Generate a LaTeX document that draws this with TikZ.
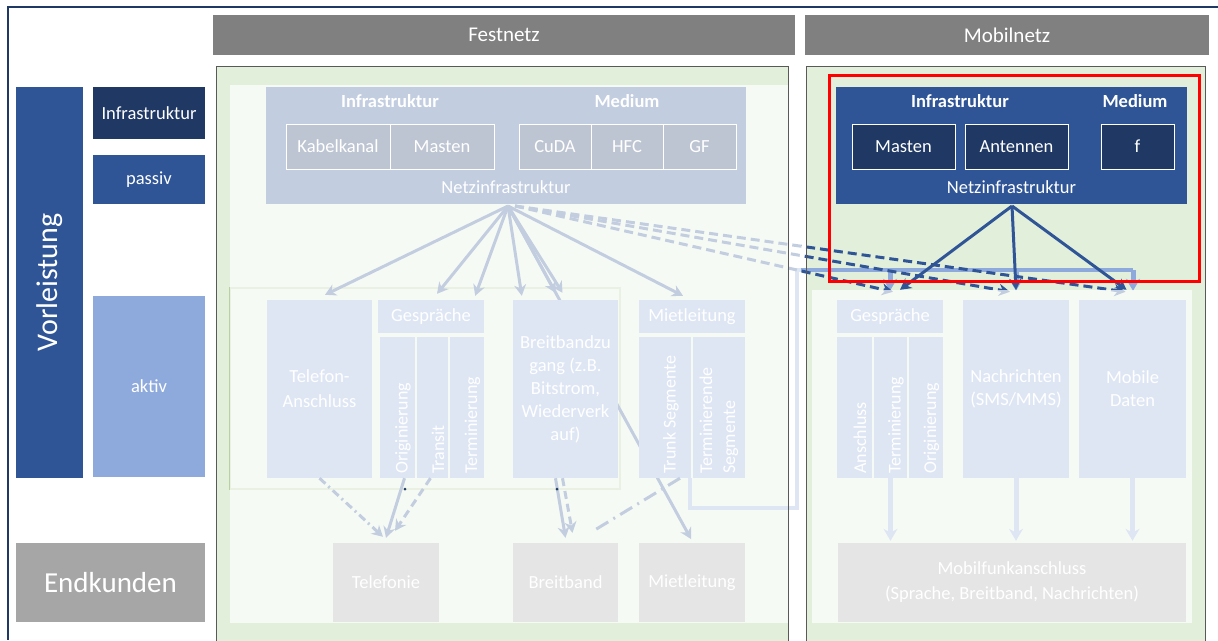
\documentclass[tikz,border=0pt]{standalone}
\usepackage{fontspec}
\setmainfont{Carlito}
\usetikzlibrary{arrows.meta}
\definecolor{navy}{HTML}{1F3864}
\definecolor{mblue}{HTML}{2F5597}
\definecolor{lblue}{HTML}{8EA9DB}
\definecolor{egray}{HTML}{A6A6A6}
\definecolor{hgray}{HTML}{808080}
\definecolor{pgreen}{HTML}{E2EFDA}
\definecolor{fframe}{HTML}{B8D1A0}
\definecolor{pborder}{HTML}{595959}
\tikzset{
 box/.style={draw=none, inner sep=0pt, align=center, text=white, font=\fontsize{18.5}{22}\selectfont},
 dk/.style={box, fill=navy},
 md/.style={box, fill=mblue},
 lb/.style={box, fill=lblue},
 gy/.style={box, fill=egray},
 ib/.style={box, fill=navy, draw=white, line width=1pt},
 hdr/.style={box, fill=hgray, font=\fontsize{21}{24}\selectfont},
 rottxt/.style={rotate=90, anchor=west, text=white, inner sep=0pt, align=left, font=\fontsize{18}{23}\selectfont},
 lbl/.style={text=white, inner sep=0pt, font=\fontsize{18.5}{22}\selectfont},
 blbl/.style={lbl, font=\fontsize{18.5}{22}\selectfont\bfseries},
 farr/.style={draw=mblue, line width=3pt, -{Stealth[length=11pt,width=12pt]}},
 dsh/.style={draw=mblue, line width=3pt, dash pattern=on 9pt off 5pt, -{Stealth[length=11pt,width=12pt]}},
 lpath/.style={draw=lblue, line width=4.5pt},
 larr/.style={draw=lblue, line width=5pt, -{Stealth[length=12pt,width=14pt]}},
 fad/.style={fill=white, fill opacity=0.71},
}
\begin{document}
\begin{tikzpicture}[x=1pt,y=-1pt]
\useasboundingbox (0,0) rectangle (1218,640);
\fill[white] (0,0) rectangle (1218,640);
% outer frame
\draw[navy, line width=2pt] (1218,7) -- (8,7) -- (8,640);

% headers
\node[hdr, minimum width=582pt, minimum height=40pt] (hfest) at (504,35) {Festnetz};
\node[hdr, minimum width=404pt, minimum height=40pt] (hmob) at (1007,35) {Mobilnetz};

% left column
\node[md, rotate=90, minimum width=391pt, minimum height=67pt, font=\fontsize{30}{34}\selectfont] (vorl) at (49.5,282.5) {Vorleistung};
\node[dk, minimum width=112pt, minimum height=52pt] (infl) at (149,113) {Infrastruktur};
\node[md, minimum width=112pt, minimum height=49pt] (passl) at (149,179.5) {passiv};
\node[lb, minimum width=112pt, minimum height=181pt] (aktl) at (149,386.5) {aktiv};
\node[gy, minimum width=189pt, minimum height=79pt, font=\fontsize{29}{33}\selectfont] (endk) at (110.5,582.5) {Endkunden};

% panels
\fill[pgreen] (216,66) rectangle (788,645);
\fill[pgreen] (806,66) rectangle (1205,645);

% faint frame in Festnetz
\draw[fframe, line width=1.5pt] (230,288) rectangle (620,489);

% Festnetz top box
\node[md, minimum width=480pt, minimum height=117pt] (ftop) at (506,145.5) {};
\node[blbl] (ftinf) at (390,101) {Infrastruktur};
\node[blbl] (ftmed) at (627,101) {Medium};
\node[lbl] (ftnetz) at (506,187) {Netzinfrastruktur};
\node[ib, minimum width=104pt, minimum height=45pt] (fkab) at (338,146.5) {Kabelkanal};
\node[ib, minimum width=104pt, minimum height=45pt] (fmas) at (442,146.5) {Masten};
\node[ib, minimum width=72pt, minimum height=45pt] (fcuda) at (555,146.5) {CuDA};
\node[ib, minimum width=72pt, minimum height=45pt] (fhfc) at (627,146.5) {HFC};
\node[ib, minimum width=73pt, minimum height=45pt] (fgf) at (699.5,146.5) {GF};
\coordinate (fn) at (508,206);
\coordinate (fnd) at (515,206);

% hidden diagonal to Mietleitung (behind boxes)
\node[gy, minimum width=106pt, minimum height=79pt] (emiet) at (692,582.5) {Mietleitung};
\draw[farr, shorten >=2pt] (fn) -- ([yshift=2pt]emiet.north);

% Festnetz lower boxes
\node[lb, minimum width=105pt, minimum height=178pt, font=\fontsize{18.5}{25}\selectfont] (ftel) at (319.5,389) {Telefon-\\Anschluss};
\node[lb, minimum width=106pt, minimum height=33pt] (fges) at (431,316.5) {Gespräche};
\node[lb, minimum width=35pt, minimum height=141pt] (forig) at (397.5,407.5) {};
\node[lb, minimum width=31pt, minimum height=141pt] (ftrans) at (432.5,407.5) {};
\node[lb, minimum width=34pt, minimum height=141pt] (fterm) at (467,407.5) {};
\node[rottxt] (tforig) at (403,474) {Originierung};
\node[rottxt] (tftrans) at (438,474) {Transit};
\node[rottxt] (tfterm) at (472.5,474) {Terminierung};
\node[lb, minimum width=105pt, minimum height=178pt, font=\fontsize{18.5}{23}\selectfont] (fbb) at (565.5,389) {Breitbandzu\\gang (z.B.\\Bitstrom,\\Wiederverk\\auf)};
\node[lb, minimum width=106pt, minimum height=33pt] (fmiet) at (692,316.5) {Mietleitung};
\node[lb, minimum width=52pt, minimum height=141pt] (ftrunk) at (665,407.5) {};
\node[lb, minimum width=52pt, minimum height=141pt] (ftseg) at (719,407.5) {};
\node[rottxt] (tftrunk) at (671,474) {Trunk Segmente};
\node[rottxt] (tftseg) at (719,474) {Terminierende\\Segmente};
\node[gy, minimum width=106pt, minimum height=79pt] (etel) at (386,582.5) {Telefonie};
\node[gy, minimum width=105pt, minimum height=79pt] (ebb) at (565.5,582.5) {Breitband};

% Festnetz arrows from Netzinfrastruktur
\draw[farr] (fn) -- ([xshift=5.5pt,yshift=5pt]ftel.north);
\draw[farr] (fn) -- ([xshift=6pt,yshift=6pt]fges.north);
\draw[farr] (fn) -- ([xshift=-9pt,yshift=4pt]fges.north east);
\draw[farr] (fn) -- ([xshift=9pt,yshift=4pt]fbb.north west);
\draw[farr] (fn) -- ([xshift=-10pt,yshift=7pt]fbb.north);
\draw[farr] (fn) -- ([xshift=-3pt,yshift=7pt]fbb.north);
\draw[farr] (fn) -- ([xshift=-9pt,yshift=4pt]fmiet.north);

% Festnetz lower arrows
\draw[farr] ([xshift=7pt]forig.south) -- ([yshift=5pt]etel.north);
\draw[farr, dash pattern=on 8pt off 4pt on 2pt off 4pt] (ftel.south) -- ([xshift=-3pt,yshift=6pt]etel.north);
\draw[farr, dash pattern=on 8pt off 5pt] ([xshift=-2pt]ftrans.south) -- ([xshift=9pt,yshift=12pt]etel.north);
\draw[farr] ([xshift=-10pt]fbb.south) -- ([yshift=5pt]ebb.north);
\draw[farr, dash pattern=on 8pt off 5pt] ([xshift=-3pt]fbb.south) -- ([xshift=7pt,yshift=10pt]ebb.north);
\draw[farr, -, dash pattern=on 14pt off 6pt on 2pt off 6pt] ([xshift=15pt]ftrunk.south) -- ([xshift=28pt,yshift=12pt]ebb.north);

% Mobilnetz top box
\node[md, minimum width=351pt, minimum height=117pt] (mtop) at (1011.5,145.5) {};
\node[blbl] (mtinf) at (960,101) {Infrastruktur};
\node[blbl] (mtmed) at (1135,101) {Medium};
\node[lbl] (mtnetz) at (1011.5,187) {Netzinfrastruktur};
\node[ib, minimum width=103pt, minimum height=45pt] (mmas) at (903.5,146.5) {Masten};
\node[ib, minimum width=103pt, minimum height=45pt] (mant) at (1016.5,146.5) {Antennen};
\node[ib, minimum width=73pt, minimum height=45pt] (mf) at (1137.5,146.5) {f};
\coordinate (mn) at (1012,206);

% Mobilnetz lower boxes
\node[lb, minimum width=106pt, minimum height=33pt] (mges) at (890,316.5) {Gespräche};
\node[lb, minimum width=35pt, minimum height=141pt] (manschl) at (854.5,407.5) {};
\node[lb, minimum width=33pt, minimum height=141pt] (mterm) at (890.5,407.5) {};
\node[lb, minimum width=34pt, minimum height=141pt] (morig) at (926,407.5) {};
\node[rottxt] (tmanschl) at (860,474) {Anschluss};
\node[rottxt] (tmterm) at (896,474) {Terminierung};
\node[rottxt] (tmorig) at (931.5,474) {Originierung};
\node[lb, minimum width=106pt, minimum height=178pt, font=\fontsize{18.5}{23}\selectfont] (mnach) at (1016,389) {Nachrichten\\(SMS/MMS)};
\node[lb, minimum width=107pt, minimum height=178pt, font=\fontsize{18.5}{23}\selectfont] (mdat) at (1132.5,389) {Mobile\\Daten};
\node[gy, minimum width=348pt, minimum height=79pt, font=\fontsize{18.5}{25}\selectfont] (mfa) at (1012,582.5) {Mobilfunkanschluss\\(Sprache, Breitband, Nachrichten)};

% Mobilnetz lower arrows
\draw[larr, shorten >=2pt] (mterm.south) -- (mterm.south |- mfa.north);
\draw[larr, shorten >=2pt] (mnach.south) -- (mnach.south |- mfa.north);
\draw[larr, shorten >=2pt] (mdat.south) -- (mdat.south |- mfa.north);

% light blue path from Festnetz to Mobilnetz
\coordinate (lp1) at (797,508);
\coordinate (lp2) at (797,270);
\coordinate (lp3) at (1133,270);
\draw[lpath, line join=miter] ([xshift=-29pt]ftseg.south) |- (lp1) -- (lp2) -- (lp3);
\draw[larr] (mges.north |- lp2) -- ([yshift=9pt]mges.north);
\draw[larr] (mnach.north |- lp2) -- ([yshift=9pt]mnach.north);
\draw[larr] (lp3) -- ([xshift=0.5pt,yshift=9pt]mdat.north);

% dashed links from Festnetz to Mobilnetz
\draw[dsh] (fnd) -- ([xshift=3pt,yshift=8pt]mges.north);
\draw[dsh] (fnd) -- ([xshift=-6pt,yshift=8pt]mnach.north);
\draw[dsh] (fnd) -- ([xshift=-7pt,yshift=8pt]mdat.north);

% Mobilnetz solid lines
\draw[farr] (mn) -- ([xshift=10pt,yshift=10pt]mges.north);
\draw[farr] (mn) -- ([yshift=10pt]mnach.north);
\draw[farr] (mn) -- ([xshift=-6pt,yshift=10pt]mdat.north);

% fading overlays
\fill[fad] (230,85) rectangle (801,623);
\fill[fad] (812,290) rectangle (1192,623);

% small marks
\fill[navy] (405,489) circle (1.5pt);
\fill[navy] (557,489) circle (1.5pt);

% panel borders
\draw[pborder, line width=1pt] (216,645) -- (216,66) -- (788,66) -- (788,645);
\draw[pborder, line width=1pt] (806,645) -- (806,66) -- (1205,66) -- (1205,645);

% red highlight
\draw[red, line width=3pt] (829,75) rectangle (1199,281);
\end{tikzpicture}
\end{document}
